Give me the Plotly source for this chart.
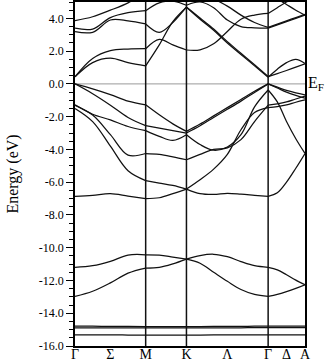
import plotly.graph_objects as go

# k-path Gamma-M-K-Gamma-A (units of 2pi/a), sample points
k = [0.000, 0.144, 0.289, 0.433, 0.577,
     0.688, 0.799, 0.910,
     1.021, 1.132, 1.244, 1.355, 1.466, 1.577,
     1.652, 1.727, 1.803, 1.878]
seg = [0, 4, 7, 13, 17]          # indices of the high symmetry points
sym_k = [k[i] for i in seg]

xlab_k = [0.000, 0.289, 0.577, 0.910, 1.244, 1.577, 1.727, 1.878]
xlab = ["Γ", "Σ", "M", "K", "Λ", "Γ", "Δ", "A"]

e_ticks = [4, 2, 0, -2, -4, -6, -8, -10, -12, -14, -16]
e_text = ["4.0", "2.0", "0.0", "-2.0", "-4.0", "-6.0", "-8.0",
          "-10.0", "-12.0", "-14.0", "-16.0"]
EF = 0.0

# conduction bands (eV)
c1 = [0.43, 1.30, 1.57, 1.30, 1.10, 2.38, 3.80, 4.68, 3.95, 3.28, 2.50, 1.80, 1.10, 0.41, 0.90, 1.30, 1.50, 1.25]
c2 = [0.43, 1.55, 2.03, 2.13, 2.15, 2.72, 2.38, 2.07, 2.08, 2.45, 3.20, 3.95, 4.20, 4.30, 4.65, 5.00, 5.30, 5.50]
c3 = [3.19, 3.15, 3.90, 3.85, 3.66, 3.15, 3.75, 4.70, 4.02, 3.35, 2.58, 1.87, 1.17, 0.45, 0.63, 0.82, 1.02, 1.22]
c4 = [3.40, 3.35, 4.05, 4.35, 4.47, 4.95, 5.05, 4.80, 5.00, 4.65, 3.90, 3.50, 3.42, 3.40, 3.60, 3.80, 4.00, 4.20]
c5 = [3.86, 4.10, 4.50, 4.95, 5.60, 5.90, 5.90, 5.80, 5.60, 5.20, 4.75, 4.20, 3.75, 3.45, 3.65, 3.85, 4.05, 4.25]
c6 = [None, None, None, None, None, None, None, None, None, None, None, None, None, 5.60, 5.20, 4.85, 4.50, 4.20]

# valence bands
v1 = [0.00, -0.30, -0.65, -1.05, -1.28, -1.89, -2.44, -2.90, -2.45, -1.95, -1.45, -0.95, -0.45, 0.00, -0.20, -0.40, -0.55, -0.67]
v2 = [0.00, -0.60, -1.30, -2.05, -2.55, -2.70, -2.85, -3.00, -2.55, -2.05, -1.55, -1.05, -0.52, 0.00, -0.25, -0.50, -0.70, -0.87]
v3 = [-1.28, -1.85, -2.20, -2.60, -2.85, -3.20, -3.45, -3.10, -3.70, -4.05, -3.85, -3.10, -1.40, -0.37, -1.10, -2.30, -3.35, -4.25]
v4 = [-1.30, -1.90, -3.10, -4.35, -4.25, -4.30, -4.45, -4.63, -4.30, -4.00, -3.90, -3.40, -2.30, -1.30, -1.22, -1.10, -0.92, -0.75]
v5 = [-1.50, -2.30, -3.80, -5.30, -5.90, -6.05, -6.20, -6.42, -5.85, -5.20, -4.30, -2.80, -1.75, -1.45, -1.38, -1.28, -1.12, -0.98]
v6 = [-6.87, -6.80, -6.70, -6.85, -7.00, -6.95, -6.70, -6.42, -6.70, -6.75, -6.68, -6.73, -6.80, -6.87, -6.65, -6.00, -5.15, -4.25]

# deeper bands
d1 = [-11.20, -11.10, -10.83, -10.45, -10.43, -10.45, -10.57, -10.70, -10.48, -10.40, -10.55, -10.85, -11.10, -11.20, -11.35, -11.65, -11.98, -12.26]
d2 = [-12.97, -12.66, -12.15, -11.55, -11.24, -11.20, -10.99, -10.70, -10.95, -11.50, -12.05, -12.55, -12.85, -12.97, -12.85, -12.68, -12.48, -12.26]

# semi-core levels
s1 = [-14.79, -14.79, -14.80, -14.80, -14.81, -14.81, -14.81, -14.81, -14.81, -14.80, -14.80, -14.80, -14.79, -14.79, -14.79, -14.79, -14.79, -14.79]
s2 = [-14.90, -14.90, -14.90, -14.89, -14.89, -14.89, -14.90, -14.90, -14.90, -14.90, -14.89, -14.89, -14.88, -14.88, -14.88, -14.88, -14.88, -14.88]
s3 = [-15.32, -15.32, -15.32, -15.33, -15.33, -15.33, -15.33, -15.33, -15.33, -15.32, -15.32, -15.32, -15.32, -15.32, -15.32, -15.32, -15.32, -15.32]

bands = [c1, c2, c3, c4, c5, c6, v1, v2, v3, v4, v5, v6, d1, d2, s1, s2, s3]

SERIF = "Liberation Serif, Times New Roman, serif"

fig = go.Figure()
for b in bands:
    for i0, i1 in zip(seg[:-1], seg[1:]):
        fig.add_trace(go.Scatter(x=k[i0:i1 + 1], y=b[i0:i1 + 1], mode="lines",
                                 line=dict(color="#111111", width=1.25, shape="spline", smoothing=1),
                                 hoverinfo="skip", showlegend=False))

fig.add_hline(y=EF, line_color="#999999", line_width=1, layer="below")
for x in sym_k[1:-1]:
    fig.add_vline(x=x, line_color="#111111", line_width=1.5)

fig.add_annotation(x=1, xref="paper", y=EF, yref="y", text="E<sub>F</sub>",
                   showarrow=False, xanchor="left", yanchor="middle", xshift=1,
                   font=dict(family=SERIF, size=16, color="black"))

fig.update_xaxes(range=[sym_k[0], sym_k[-1]], tickmode="array", tickvals=xlab_k, ticktext=xlab,
                 ticks="", ticklabelstandoff=-6, showgrid=False, zeroline=False,
                 showline=True, mirror=True, linecolor="black", linewidth=1.5, automargin=False,
                 tickfont=dict(family=SERIF, size=14, color="black"))
fig.update_yaxes(range=[-16, 5], tickmode="array", tickvals=e_ticks, ticktext=e_text,
                 ticks="outside", ticklen=7, tickwidth=1.2, tickcolor="black",
                 minor=dict(dtick=0.5, tick0=0, ticks="outside", ticklen=4, tickwidth=1, tickcolor="black", showgrid=False),
                 showgrid=False, zeroline=False, showline=True, mirror=True,
                 linecolor="black", linewidth=1.5, automargin=False,
                 tickfont=dict(family=SERIF, size=12, color="black"),
                 title=dict(text="Energy (eV)", standoff=16, font=dict(family=SERIF, size=16, color="black")))

fig.update_layout(width=329, height=361, margin=dict(l=75, r=24, t=2, b=15),
                  plot_bgcolor="white", paper_bgcolor="white")

# page body has a default margin; drop it so the figure sits at the window corner
fig.write_html("out.html", config={"displayModeBar": False},
               post_script="document.body.style.margin='0';")
